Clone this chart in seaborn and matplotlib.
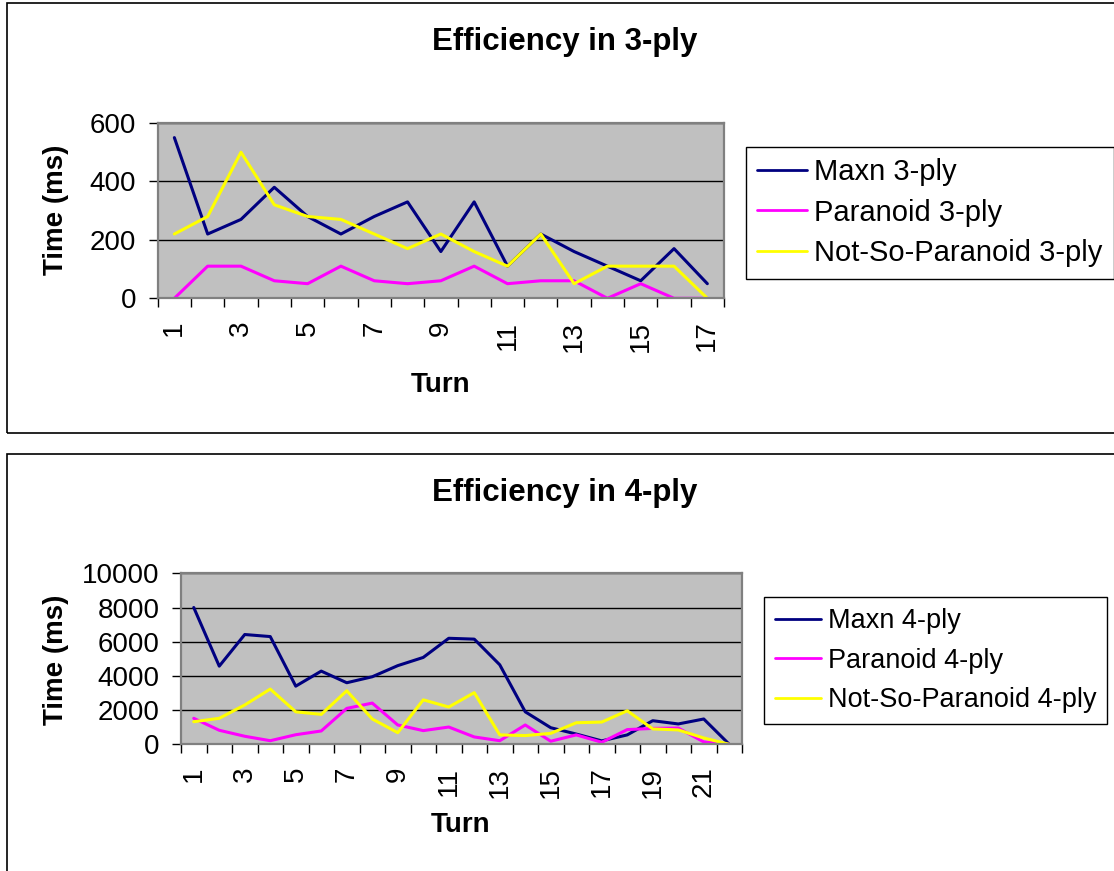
import matplotlib
matplotlib.use("Agg")
import matplotlib.pyplot as plt
from matplotlib.patches import Rectangle
import seaborn as sns
import pandas as pd

# Values (time in ms per turn)
turns_3 = list(range(1, 18))
maxn_3 = [550, 220, 270, 380, 280, 220, 280, 330, 160, 330, 110, 220, 160, 110, 60, 170, 50]
paranoid_3 = [0, 110, 110, 60, 50, 110, 60, 50, 60, 110, 50, 60, 60, 0, 50, 0, 0]
nsp_3 = [220, 280, 500, 320, 280, 270, 220, 170, 220, 160, 110, 220, 50, 110, 110, 110, 0]

turns_4 = list(range(1, 23))
maxn_4 = [8000, 4570, 6420, 6300, 3400, 4280, 3600, 3950, 4600, 5080, 6200, 6150,
          4650, 1900, 970, 600, 200, 550, 1380, 1190, 1480, 0]
paranoid_4 = [1520, 820, 470, 210, 560, 780, 2100, 2410, 1130, 800, 1010, 430,
              210, 1130, 180, 550, 120, 860, 930, 950, 140, 0]
nsp_4 = [1320, 1520, 2300, 3230, 1900, 1750, 3130, 1480, 680, 2600, 2180, 3020,
         550, 510, 640, 1260, 1300, 1960, 900, 840, 370, 0]

series_names = ["Maxn", "Paranoid", "Not-So-Paranoid"]
colors = ["#000080", "#FF00FF", "#FFFF00"]

sns.set_style("white")
plt.rcParams["font.family"] = ["Liberation Sans", "DejaVu Sans"]
plt.rcParams["text.color"] = "black"
plt.rcParams["axes.labelcolor"] = "black"
plt.rcParams["xtick.color"] = "black"
plt.rcParams["ytick.color"] = "black"

W, H = 1114, 871
fig = plt.figure(figsize=(W / 100, H / 100), dpi=100)


def px_axes(left, top, right, bottom):
    return fig.add_axes([left / W, 1 - bottom / H, (right - left) / W, (bottom - top) / H])


def make_df(turns, cols, ply):
    frames = []
    for name, vals in zip(series_names, cols):
        frames.append(pd.DataFrame({"Turn": turns, "Time": vals,
                                    "Series": f"{name} {ply}-ply"}))
    return pd.concat(frames, ignore_index=True)


def draw_chart(ax, df, n, ymax, ystep, ply, legend_xy, legend_fs, legend_sp,
               title_y, ylab_xy, xlab_xy):
    labels = [f"{s} {ply}-ply" for s in series_names]
    sns.lineplot(data=df, x="Turn", y="Time", hue="Series", hue_order=labels,
                 palette=colors, linewidth=2.2, ax=ax, legend=False)
    ax.set_facecolor("#C0C0C0")
    ax.set_xlim(0.5, n + 0.5)
    ax.set_ylim(0, ymax)
    ax.set_yticks(range(0, ymax + 1, ystep))
    ax.grid(axis="y", color="black", linewidth=1.0)
    ax.set_axisbelow(True)
    for sp in ax.spines.values():
        sp.set_color("#808080")
        sp.set_linewidth(1.6)
        sp.set_visible(True)
    # tick marks at category boundaries, labels on odd turns
    ax.set_xticks([i + 0.5 for i in range(0, n + 1)])
    ax.set_xticklabels([])
    ax.set_xticks([t for t in range(1, n + 1, 2)], minor=True)
    ax.set_xticklabels([str(t) for t in range(1, n + 1, 2)], minor=True,
                       rotation=90, fontsize=20)
    ax.tick_params(axis="x", which="major", direction="out", length=6.5,
                   width=1, color="black", bottom=True)
    ax.tick_params(axis="x", which="minor", length=0, pad=16, bottom=True)
    ax.tick_params(axis="y", direction="out", length=6.5, width=1, color="black",
                   labelsize=20, pad=9, left=True)
    ax.set_xlabel("Turn", fontsize=20, fontweight="bold", va="center")
    ax.set_ylabel("Time (ms)", fontsize=20, fontweight="bold", va="center")
    ax.xaxis.set_label_coords(*xlab_xy)
    ax.yaxis.set_label_coords(*ylab_xy)
    fig.text(565 / W, 1 - title_y / H, f"Efficiency in {ply}-ply", ha="center",
             va="center", fontsize=22.5, fontweight="bold")
    handles = [plt.Line2D([], [], color=c, linewidth=2.0) for c in colors]
    leg = ax.legend(handles, labels, loc="upper left",
                    bbox_to_anchor=(legend_xy[0] / W, 1 - legend_xy[1] / H),
                    bbox_transform=fig.transFigure, frameon=True, fancybox=False,
                    edgecolor="black", framealpha=1, borderaxespad=0,
                    fontsize=legend_fs, handlelength=1.7, handletextpad=0.25,
                    labelspacing=legend_sp, borderpad=0.4)
    leg.get_frame().set_linewidth(1.0)


# chart boxes
fig.patches.append(Rectangle((7 / W, 1 - 433 / H), 1.2, (433 - 3) / H,
                             transform=fig.transFigure, fill=False,
                             edgecolor="black", linewidth=1.2))
fig.patches.append(Rectangle((7 / W, -0.1), 1.2, 0.1 + (H - 454) / H,
                             transform=fig.transFigure, fill=False,
                             edgecolor="black", linewidth=1.2))

ax1 = px_axes(157.7, 123, 724, 298.3)
draw_chart(ax1, make_df(turns_3, [maxn_3, paranoid_3, nsp_3], 3), 17, 600, 200, 3,
           (745.7, 146.7), 21, 0.42, 42, (-0.18, 0.504), (0.5, -0.495))

ax2 = px_axes(181, 573.3, 742, 744.3)
draw_chart(ax2, make_df(turns_4, [maxn_4, paranoid_4, nsp_4], 4), 22, 10000, 2000, 4,
           (764, 597.3), 19.5, 0.5, 493, (-0.223, 0.493), (0.499, -0.472))

fig.savefig("out.png", dpi=100)
